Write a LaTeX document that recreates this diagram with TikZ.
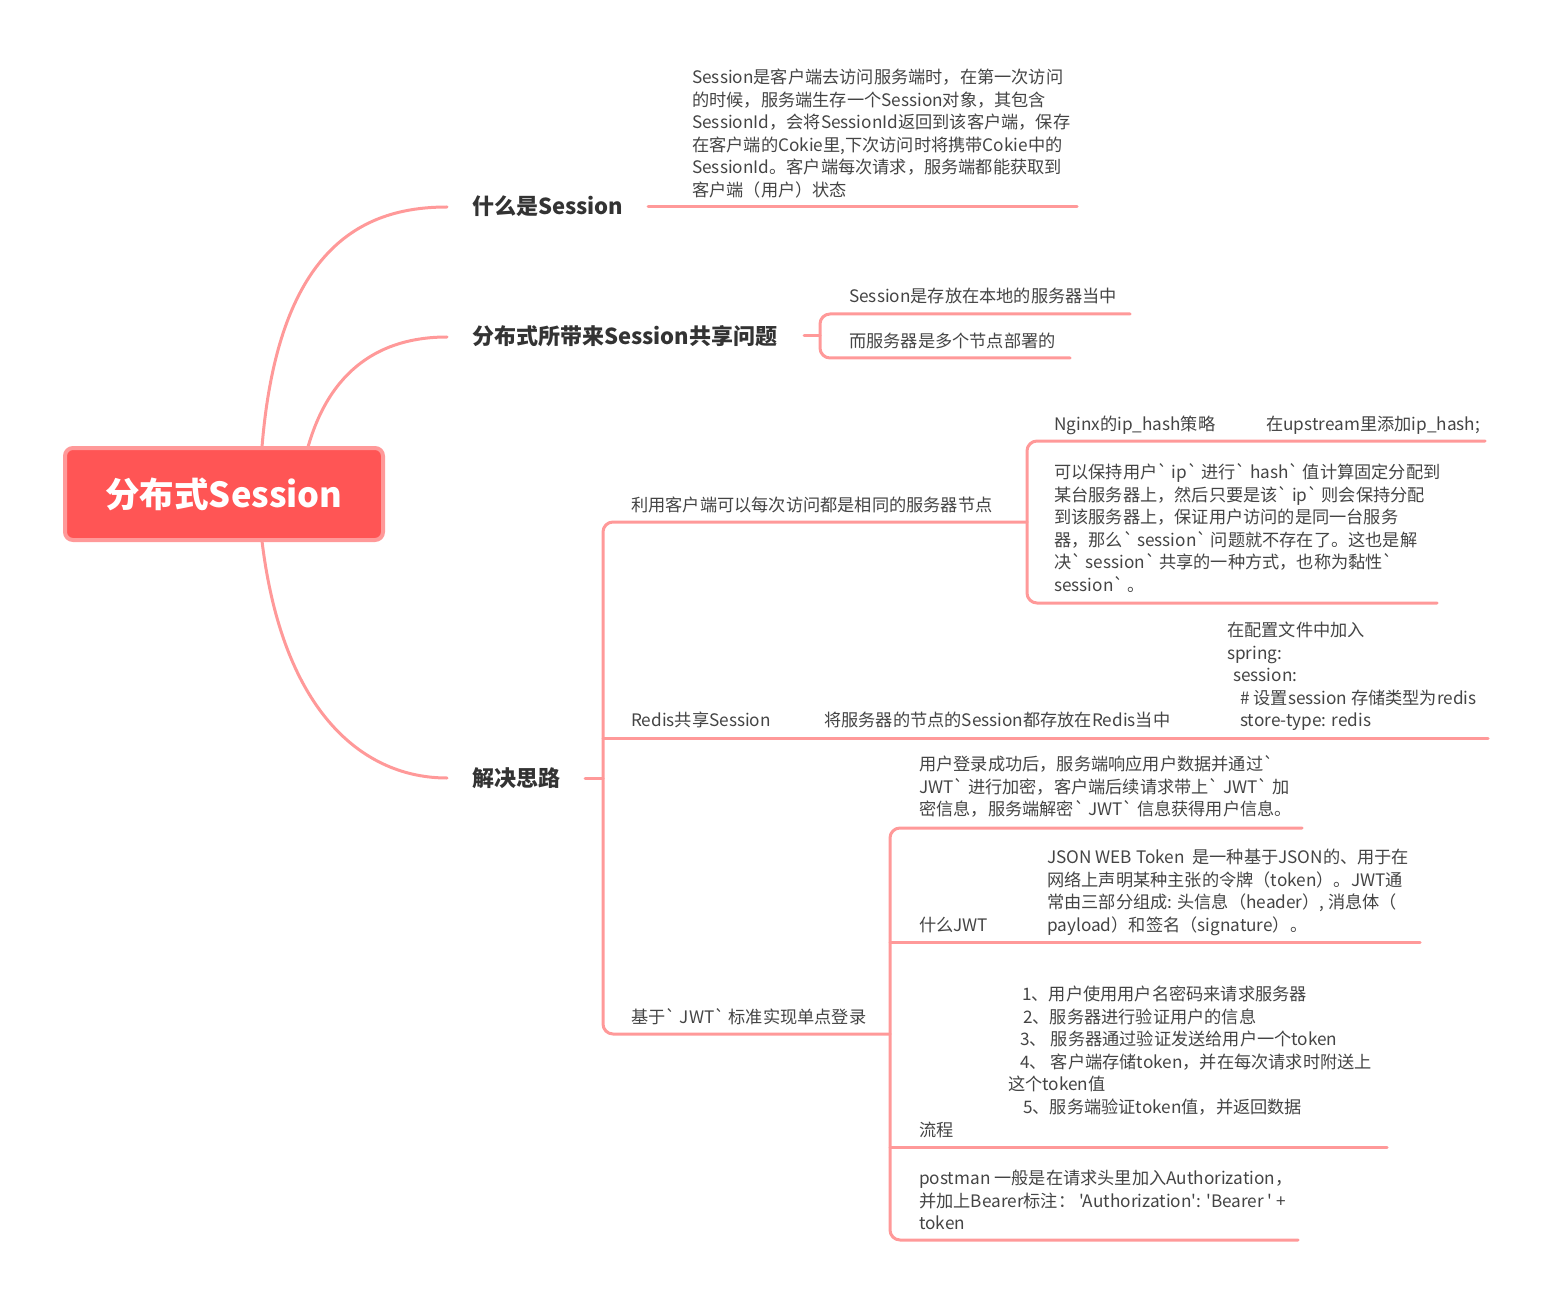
\documentclass[tikz,border=0pt]{standalone}
\usepackage{fontspec}
\setmainfont{Noto Sans CJK SC}[Ligatures=TeXOff]
\definecolor{lnc}{RGB}{255,153,153}
\definecolor{txc}{RGB}{68,68,68}
\definecolor{hdc}{RGB}{51,51,51}
\definecolor{rootfill}{RGB}{255,85,85}
\newcommand{\stt}{\rule{0pt}{0.9em}}
\tikzset{
  conn/.style={draw=lnc, line width=3pt, line cap=round, rounded corners=10pt},
  curve/.style={draw=lnc, line width=3pt, line cap=round},
  body/.style={font=\fontsize{17.2}{22.5}\selectfont, text=txc, inner sep=0pt, align=left, anchor=north west},
  one/.style={font=\fontsize{17.2}{22.5}\selectfont, text=txc, inner sep=0pt, anchor=base west},
  head/.style={font=\bfseries\fontsize{22}{27}\selectfont, text=hdc, inner sep=0pt, anchor=base west},
  rootbox/.style={draw=lnc, line width=4pt, fill=rootfill, rounded corners=8pt,
    minimum width=318pt, minimum height=92pt, text=white, inner sep=0pt,
    font=\bfseries\fontsize{34.5}{40}\selectfont},
}
\begin{document}
\begin{tikzpicture}[x=1pt,y=-1pt]
\useasboundingbox (0,0) rectangle (1550,1305);

% root
\node[rootbox] (root) at (224,494) {分布式Session};
\coordinate (r1) at (262,447);
\coordinate (r2) at (308,447);
\coordinate (r3) at (262,541);

% headings
\node[head] (h1) at (472,215) {什么是Session};
\node[head] (h2) at (472,345) {分布式所带来Session共享问题};
\node[head] (h3) at (472,786) {解决思路};
\coordinate (h1in) at (447,207);
\coordinate (h2in) at (447,337);
\coordinate (h3in) at (447,778);

\draw[curve] (r1) .. controls (278,250) and (360,207) .. (h1in);
\draw[curve] (r2) .. controls (330,370) and (380,337) .. (h2in);
\draw[curve] (r3) .. controls (283,715) and (365,778) .. (h3in);

% branch 1
\node[body] (t1) at (692,68) {\stt Session是客户端去访问服务端时，在第一次访问\\
的时候，服务端生存一个Session对象，其包含\\
SessionId，会将SessionId返回到该客户端，保存\\
在客户端的Cokie里,下次访问时将携带Cokie中的\\
SessionId。客户端每次请求，服务端都能获取到\\
客户端（用户）状态};
\coordinate (t1a) at (648,207);
\coordinate (t1b) at (1077,207);
\draw[conn] (t1a) -- (t1b);

% branch 2
\node[one] (b2a) at (849,303) {Session是存放在本地的服务器当中};
\node[one] (b2b) at (849,348) {而服务器是多个节点部署的};
\coordinate (h2out) at (804,336);
\coordinate (k2) at (820,336);
\draw[conn] (h2out) -- (k2);
\draw[conn] (1130,314) -- (820,314) -- (820,358) -- (1070,358);

% branch 3 main bracket
\coordinate (h3out) at (585,778);
\coordinate (k3) at (603,778);
\draw[conn] (h3out) -- (k3);
\draw[conn] (1027,522) -- (603,522) -- (603,1034) -- (890,1034);

% a: sticky session
\node[one] (a) at (631,511) {利用客户端可以每次访问都是相同的服务器节点};
\node[one] (a1) at (1054,431) {Nginx的ip\_hash策略};
\node[one] (a1x) at (1266,431) {在upstream里添加ip\_hash;};
\node[body] (a2) at (1054,463) {\stt 可以保持用户` ip` 进行` hash` 值计算固定分配到\\
某台服务器上，然后只要是该` ip` 则会保持分配\\
到该服务器上，保证用户访问的是同一台服务\\
器，那么` session` 问题就不存在了。这也是解\\
决` session` 共享的一种方式，也称为黏性`\\
session` 。};
\draw[conn] (1485,441) -- (1027,441) -- (1027,603) -- (1437,603);

% b: redis
\node[one] (rb) at (631,726) {Redis共享Session};
\node[one] (rb2) at (824,726) {将服务器的节点的Session都存放在Redis当中};
\node[body] (rb3) at (1227,621) {\stt 在配置文件中加入\\
spring:\\
\hspace*{6pt}session:\\
\hspace*{13pt}\# 设置session 存储类型为redis\\
\hspace*{13pt}store-type: redis};
\coordinate (rba) at (603,738);
\coordinate (rbb) at (1488,738);
\draw[conn] (rba) -- (rbb);

% c: JWT
\node[one] (jw) at (631,1023) {基于` JWT` 标准实现单点登录};
\node[body] (c1) at (919,755) {\stt 用户登录成功后，服务端响应用户数据并通过`\\
JWT` 进行加密，客户端后续请求带上` JWT` 加\\
密信息，服务端解密` JWT` 信息获得用户信息。};
\node[one] (c2) at (919,931) {什么JWT};
\node[body] (c2x) at (1047,848) {\stt JSON WEB Token\ \ 是一种基于JSON的、用于在\\
网络上声明某种主张的令牌（token）。JWT通\\
常由三部分组成: 头信息（header）, 消息体（\\
payload）和签名（signature）。};
\node[one] (c3) at (919,1136) {流程};
\node[body] (c3x) at (1008,985) {\stt\hspace*{14pt}1、用户使用用户名密码来请求服务器\\
\hspace*{15pt}2、服务器进行验证用户的信息\\
\hspace*{12pt}3、 服务器通过验证发送给用户一个token\\
\hspace*{12pt}4、 客户端存储token，并在每次请求时附送上\\
这个token值\\
\hspace*{15pt}5、服务端验证token值，并返回数据};
\node[body] (c4) at (919,1169) {\stt postman 一般是在请求头里加入Authorization，\\
并加上Bearer标注：  'Authorization': 'Bearer ' +\\
token};
\draw[conn] (1302,828) -- (890,828) -- (890,1240) -- (1298,1240);
\coordinate (c2a) at (890,942);
\coordinate (c2b) at (1420,942);
\coordinate (c3a) at (890,1147);
\coordinate (c3b) at (1387,1147);
\draw[conn] (c2a) -- (c2b);
\draw[conn] (c3a) -- (c3b);
\end{tikzpicture}
\end{document}
